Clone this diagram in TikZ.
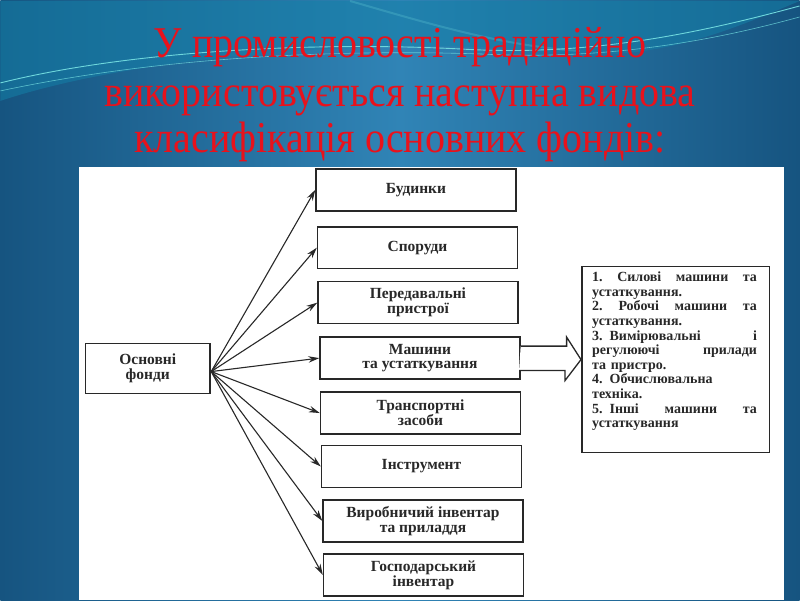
\documentclass[tikz,border=0pt]{standalone}
\usepackage{fontspec}
\setmainfont{Liberation Serif}
\usetikzlibrary{arrows.meta, positioning, calc}

\definecolor{slidedark}{RGB}{22,84,128}
\definecolor{slidelight}{RGB}{48,132,182}
\definecolor{swoosh}{RGB}{20,128,168}
\definecolor{swooshline}{RGB}{110,215,220}
\definecolor{titlered}{RGB}{232,18,28}
\definecolor{ink}{RGB}{40,40,40}

\newcommand{\fullline}[1]{\makebox[165pt][l]{#1}}

\begin{document}
\begin{tikzpicture}[x=1pt, y=-1pt,
    box/.style={draw=ink, line width=1.6pt, minimum width=200pt, minimum height=42pt, align=center, text=ink, font=\fontsize{15.5}{15}\selectfont\bfseries},
    arrow/.style={-{Stealth[length=11pt, width=6.5pt]}, line width=1.1pt, draw=ink},
    title/.style={anchor=base, text=titlered, xscale=0.91, font=\fontsize{44}{44}\selectfont}
  ]
    % slide background
    \shade[left color=slidedark, right color=slidedark, middle color=slidelight] (0,0) rectangle (800,600);
    \fill[swoosh, opacity=0.55] (0,0) -- (0,100) .. controls (150,50) and (420,35) .. (560,52) .. controls (660,62) and (740,25) .. (800,0) -- cycle;
    \draw[swooshline, line width=0.9pt] (0,82) .. controls (120,52) and (300,40) .. (460,48) .. controls (590,56) and (700,32) .. (800,5);
    \draw[swooshline, line width=0.6pt, opacity=0.8] (0,90) .. controls (150,58) and (320,48) .. (480,53) .. controls (610,60) and (720,38) .. (800,16);
    \draw[swooshline, line width=2pt, opacity=0.25] (350,0) .. controls (420,20) and (500,45) .. (580,50);

    \node[title] (t1) at (400,57) {У промисловості традиційно};
    \node[title] (t2) at (400,106) {використовується наступна видова};
    \node[title] (t3) at (400,152) {класифікація основних фондів:};

    % scanned scheme
    \fill[white] (79,166) rectangle (784,600);

    \node[box] (bud) at (416,189) {Будинки};
    \node[box] (spor) at (417.5,247) {Споруди};
    \node[box] (pered) at (418,302) {Передавальні\\пристрої};
    \node[box] (mash) at (420,357.5) {Машини\\та устаткування};
    \node[box] (trans) at (420.5,412.5) {Транспортні\\засоби};
    \node[box] (instr) at (421.5,466) {Інструмент};
    \node[box] (vyrob) at (423,520.5) {Виробничий інвентар\\та приладдя};
    \node[box] (hosp) at (423.5,574.5) {Господарський\\інвентар};
    \node[box, minimum width=125pt, minimum height=50pt] (osn) at (147.5,368) {Основні\\фонди};

    \coordinate (hub) at (211,371);
    \foreach \b in {bud, spor, pered, mash, trans, instr, vyrob, hosp}
      \draw[arrow] (hub) -- (\b.west);

    \node[draw=ink, line width=1.6pt, minimum width=188pt, minimum height=186pt] (rbox) at (676,359) {};
    \node[anchor=north west, inner sep=0pt, text width=165pt, align=left, text=ink, font=\fontsize{14}{14.6}\selectfont\bfseries] (list) at ($(rbox.north west)+(11,6)$) {%
      \fullline{1.\hfill Силові\hfill машини\hfill та}\\
      устаткування.\\
      \fullline{2.\hfill Робочі\hfill машини\hfill та}\\
      устаткування.\\
      \fullline{3. Вимірювальні\hfill і}\\
      \fullline{регулюючі\hfill прилади}\\
      та пристро.\\
      4. Обчислювальна\\
      техніка.\\
      \fullline{5. Інші\hfill машини\hfill та}\\
      устаткування};

    \draw[ink, line width=1.3pt, fill=white] (mash.east) ++(0,-12) -- ++(46,0) -- ++(0,-9) -- (rbox.west) -- ++(-16,21) -- ++(0,-10) -- ++(-46,0);
  \end{tikzpicture}
\end{document}
